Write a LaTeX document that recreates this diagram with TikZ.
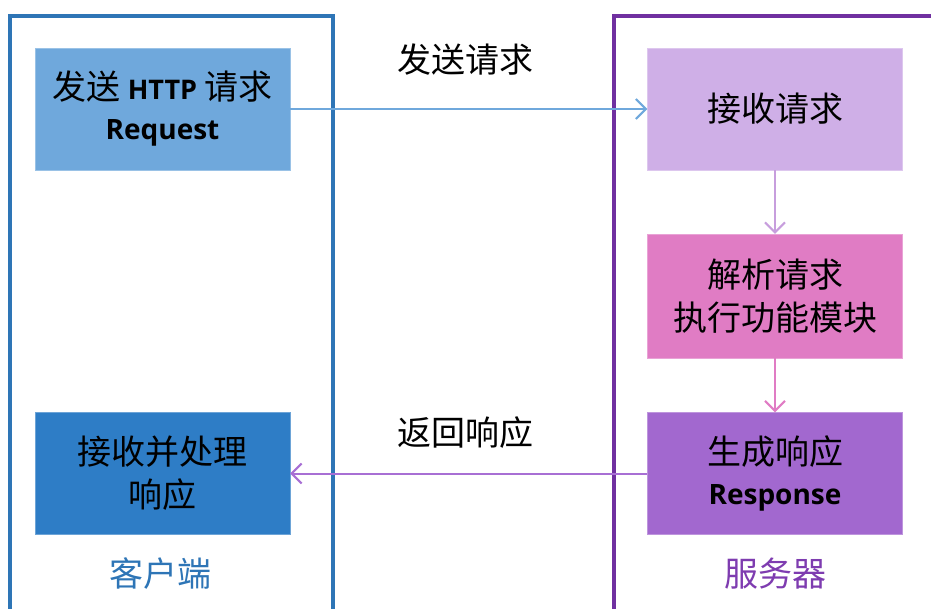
\documentclass[tikz,border=0pt]{standalone}
\usepackage{fontspec}
\setmainfont{Noto Sans CJK SC}
\newfontfamily\latinbold{Open Sans}
\usetikzlibrary{arrows.meta}
\definecolor{cframe}{HTML}{2E75B6}
\definecolor{sframe}{HTML}{7030A0}
\definecolor{reqbox}{HTML}{6FA8DC}
\definecolor{cliresp}{HTML}{2E7DC6}
\definecolor{recvbox}{HTML}{CFAFE7}
\definecolor{parsebox}{HTML}{E07CC4}
\definecolor{genbox}{HTML}{A268CF}
\definecolor{respline}{HTML}{A86FD4}
\definecolor{slabel}{HTML}{7E3CB0}
\newcommand{\latinline}[1]{{\latinbold\bfseries\fontsize{28}{30}\selectfont #1}}
\tikzset{
  framebox/.style={line width=4pt},
  stepbox/.style={minimum width=255pt, minimum height=122pt, inner sep=0pt,
    align=center, font=\fontsize{34}{43}\selectfont, text=black},
  conn/.style={line width=2pt, -{Straight Barb[length=10pt,width=20pt,line width=2pt]}},
  caption/.style={font=\fontsize{34}{40}\selectfont, text=black},
}
\begin{document}
\begin{tikzpicture}[x=1pt,y=-1pt]
\useasboundingbox (0,0) rectangle (931,608);
\clip (0,0) rectangle (931,608);
% containers
\draw[framebox, cframe] (10,16) rectangle (333,640);
\draw[framebox, sframe] (614,16) rectangle (960,640);
% boxes
\node[stepbox, fill=reqbox, draw=reqbox!70!white] (req) at (162.5,109)
  {发送 {\latinbold\bfseries\fontsize{27}{30}\selectfont HTTP} 请求\\[-3pt]\latinline{Request}};
\node[stepbox, fill=cliresp, draw=cliresp!70!white] (cli) at (162.5,473.5)
  {接收并处理\\响应};
\node[stepbox, fill=recvbox, draw=recvbox!70!white] (recv) at (775,109) {接收请求};
\node[stepbox, fill=parsebox, draw=parsebox!70!white, minimum height=124pt] (parse) at (775,296)
  {解析请求\\执行功能模块};
\node[stepbox, fill=genbox, draw=genbox!70!white] (gen) at (775,473.5)
  {生成响应\\[-3pt]\latinline{Response}};
% labels
\node[caption] (sendlbl) at (465,60) {发送请求};
\node[caption] (retlbl) at (465,433) {返回响应};
\node[font=\fontsize{34}{40}\selectfont, text=cframe] (clilbl) at (160,574) {客户端};
\node[font=\fontsize{34}{40}\selectfont, text=slabel] (srvlbl) at (775,574) {服务器};
% connectors
\draw[conn, reqbox] (req.east) -- (recv.west);
\draw[conn, recvbox!90!violet] (recv.south) -- (parse.north);
\draw[conn, parsebox] (parse.south) -- (gen.north);
\draw[conn, respline] (gen.west) -- (cli.east);
\end{tikzpicture}
\end{document}
